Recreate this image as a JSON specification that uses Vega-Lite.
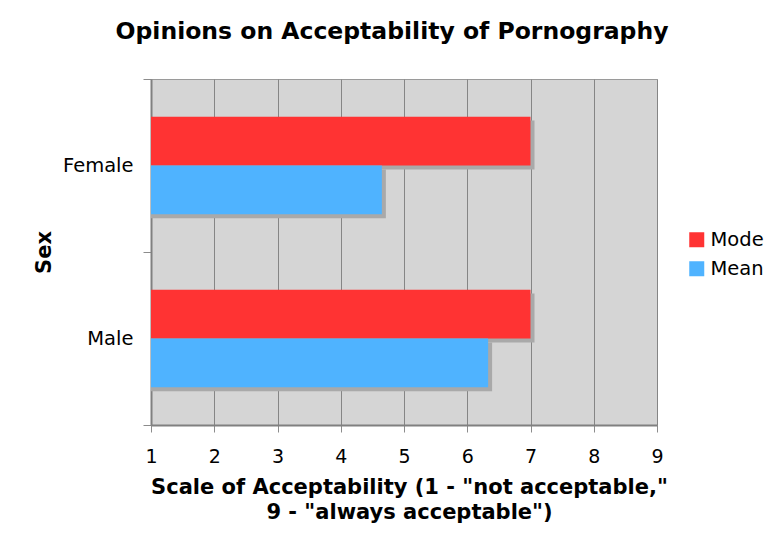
{
  "$schema": "https://vega.github.io/schema/vega-lite/v6.json",
  "width": 506,
  "height": 346,
  "autosize": {"type": "none"},
  "padding": {"left": 151, "top": 79, "right": 120, "bottom": 125},
  "background": "white",
  "title": {
    "text": "Opinions on Acceptability of Pornography",
    "anchor": "middle",
    "frame": "group",
    "dx": -12,
    "offset": 7,
    "baseline": "alphabetic",
    "font": "DejaVu Sans",
    "fontSize": 23.5,
    "fontWeight": "bold",
    "color": "black"
  },
  "data": {
    "values": [
      {"sex": "Female", "stat": "Mode", "score": 7},
      {"sex": "Female", "stat": "Mean", "score": 4.65},
      {"sex": "Male", "stat": "Mode", "score": 7},
      {"sex": "Male", "stat": "Mean", "score": 6.33}
    ]
  },
  "encoding": {
    "y": {
      "field": "sex",
      "type": "nominal",
      "sort": ["Female", "Male"],
      "scale": {"paddingInner": 0, "paddingOuter": 0},
      "axis": {
        "title": "Sex",
        "tickBand": "extent",
        "grid": false,
        "ticks": true,
        "tickSize": 8,
        "tickColor": "#8c8c8c",
        "domainColor": "#808080",
        "domainWidth": 2,
        "labelPadding": 10,
        "labelFont": "DejaVu Sans",
        "labelFontSize": 19.5,
        "labelColor": "black",
        "titleFont": "DejaVu Sans",
        "titleFontSize": 21,
        "titleFontWeight": "bold",
        "titleColor": "black",
        "titleAngle": -90,
        "titleAlign": "center",
        "titleBaseline": "alphabetic",
        "titleX": -101,
        "titleY": 173
      }
    },
    "x": {
      "field": "score",
      "type": "quantitative",
      "scale": {"domain": [1, 9], "nice": false, "zero": false},
      "axis": {
        "title": ["Scale of Acceptability (1 - \"not acceptable,\"", "9 - \"always acceptable\")"],
        "values": [1, 2, 3, 4, 5, 6, 7, 8, 9],
        "format": "d",
        "grid": true,
        "gridColor": "#858585",
        "gridWidth": 1,
        "gridOpacity": 1,
        "tickSize": 7,
        "tickColor": "#8c8c8c",
        "domainColor": "#808080",
        "domainWidth": 2,
        "labelPadding": 15,
        "labelFont": "DejaVu Sans",
        "labelFontSize": 19,
        "labelColor": "black",
        "labelFlush": false,
        "titleFont": "DejaVu Sans",
        "titleFontSize": 21,
        "titleFontWeight": "bold",
        "titleColor": "black",
        "titleAlign": "center",
        "titleBaseline": "top",
        "titleLineHeight": 25,
        "titleX": 258,
        "titleY": 51
      }
    },
    "x2": {"datum": 1}
  },
  "layer": [
    {
      "mark": {"type": "bar", "color": "#a9a9a9", "xOffset": 4},
      "encoding": {
        "yOffset": {
          "field": "stat",
          "type": "nominal",
          "sort": ["Mode", "Mean"],
          "scale": {"paddingInner": 0, "paddingOuter": 0.77, "align": 0.553}
        }
      }
    },
    {
      "mark": {"type": "bar"},
      "encoding": {
        "yOffset": {
          "field": "stat",
          "type": "nominal",
          "sort": ["Mode", "Mean"],
          "scale": {"paddingInner": 0, "paddingOuter": 0.77, "align": 0.5}
        },
        "color": {
          "field": "stat",
          "type": "nominal",
          "sort": ["Mode", "Mean"],
          "scale": {"domain": ["Mode", "Mean"], "range": ["#ff3333", "#4fb3ff"]},
          "legend": {
            "title": null,
            "orient": "none",
            "legendX": 536,
            "legendY": 151,
            "symbolType": "square",
            "symbolSize": 225,
            "symbolStrokeWidth": 0,
            "symbolOpacity": 1,
            "rowPadding": 8,
            "labelFont": "DejaVu Sans",
            "labelFontSize": 19.5,
            "labelColor": "black",
            "labelOffset": 4,
            "padding": 0,
            "direction": "vertical"
          }
        }
      }
    }
  ],
  "resolve": {"scale": {"yOffset": "independent"}},
  "config": {
    "view": {"fill": "#d5d5d5", "stroke": "#9a9a9a", "strokeWidth": 1},
    "axis": {"labelAngle": 0}
  }
}
